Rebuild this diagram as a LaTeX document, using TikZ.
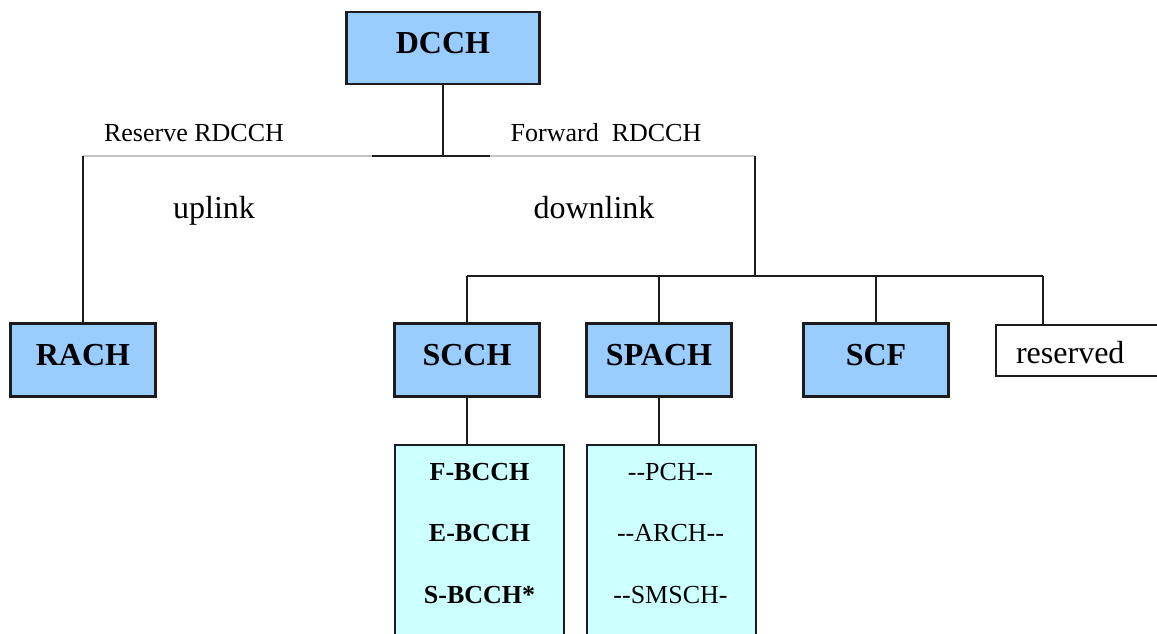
\documentclass[tikz,border=0pt]{standalone}
\usepackage{fontspec}
\setmainfont{Liberation Serif}
\definecolor{boxblue}{HTML}{99CCFF}
\definecolor{boxcyan}{HTML}{CCFFFF}
\definecolor{wireink}{HTML}{1C1C1C}
\definecolor{thingray}{HTML}{C4C4C4}

\begin{document}
\begin{tikzpicture}[x=0.75pt, y=-0.75pt,
                    every node/.style={inner sep=0pt},
                    chanbox/.style={draw=wireink, line width=1.6pt, fill=boxblue,
                      minimum width=108.75pt, minimum height=54.75pt,
                      font=\fontsize{24}{28}\selectfont\bfseries,
                      text height=16pt, text depth=8pt},
                    listbox/.style={draw=wireink, line width=1.6pt, fill=boxcyan,
                      minimum width=126.75pt, minimum height=165pt, anchor=north},
                    listitem/.style={anchor=base, font=\fontsize{19.5}{23}\selectfont},
                    linktext/.style={anchor=base, font=\fontsize{24}{28}\selectfont},
                    wire/.style={draw=wireink, line width=1.5pt}]

  %% page frame
  \clip (0,0) rectangle (1157,633);

  %% top channel
  \node[chanbox, minimum width=144.75pt, minimum height=54pt] (dcch) at (443,48) {DCCH};

  %% split point and the two branches
  \coordinate (split) at (443,156);
  \coordinate (splitl) at (372,156);
  \coordinate (splitr) at (490,156);
  \coordinate (upend) at (83,156);
  \coordinate (downend) at (755,156);
  \coordinate (bus) at (755,276);
  \coordinate (busl) at (467,276);
  \coordinate (busr) at (1043,276);

  \node[listitem] (rdcchrev) at (194,141.5) {Reserve RDCCH};
  \node[listitem] (rdcchfwd) at (606,141.5) {Forward\ \ RDCCH};
  \node[linktext] (uplink) at (214,218) {uplink};
  \node[linktext] (downlink) at (594,218) {downlink};

  %% second row
  \node[chanbox] (rach) at (83,360) {RACH};
  \node[chanbox] (scch) at (467,360) {SCCH};
  \node[chanbox] (spach) at (659,360) {SPACH};
  \node[chanbox] (scf) at (876,360) {SCF};
  \node[chanbox, fill=white, anchor=north west, font=\fontsize{24}{28}\selectfont,
        minimum height=38.25pt, text width=120pt, align=left, inner xsep=15pt,
        text height=19.5pt, text depth=0pt] (reserved) at (995,323.5) {reserved};

  %% third row
  \node[listbox] (fbox) at (479.5,444) {};
  \node[listbox] (pbox) at (671.5,444) {};
  \node[listitem, font=\fontsize{19.5}{23}\selectfont\bfseries] (fbcch) at (479.5,480) {F-BCCH};
  \node[listitem, font=\fontsize{19.5}{23}\selectfont\bfseries] (ebcch) at (479.5,541.5) {E-BCCH};
  \node[listitem, font=\fontsize{19.5}{23}\selectfont\bfseries] (sbcch) at (479.5,603) {S-BCCH*};
  \node[listitem] (pch) at (670.5,480) {{-}{-}PCH{-}{-}};
  \node[listitem] (arch) at (670.5,541.5) {{-}{-}ARCH{-}{-}};
  \node[listitem] (smsch) at (670.5,603) {{-}{-}SMSCH{-}};

  %% connectors
  \draw[thingray, line width=0.8pt] (upend) -- (downend);
  \draw[wire] (dcch) -- (split);
  \draw[wire] (splitl) -- (splitr);
  \draw[wire] (upend) -- (rach);
  \draw[wire] (downend) -- (bus);
  \draw[wire] (busl) -- (busr);
  \draw[wire] (busl) -- (scch);
  \draw[wire] (spach.north |- bus) -- (spach);
  \draw[wire] (scf.north |- bus) -- (scf);
  \draw[wire] (busr) -- (busr |- reserved.north);
  \draw[wire] (scch) -- (scch.south |- fbox.north);
  \draw[wire] (spach) -- (spach.south |- pbox.north);

\end{tikzpicture}
\end{document}
